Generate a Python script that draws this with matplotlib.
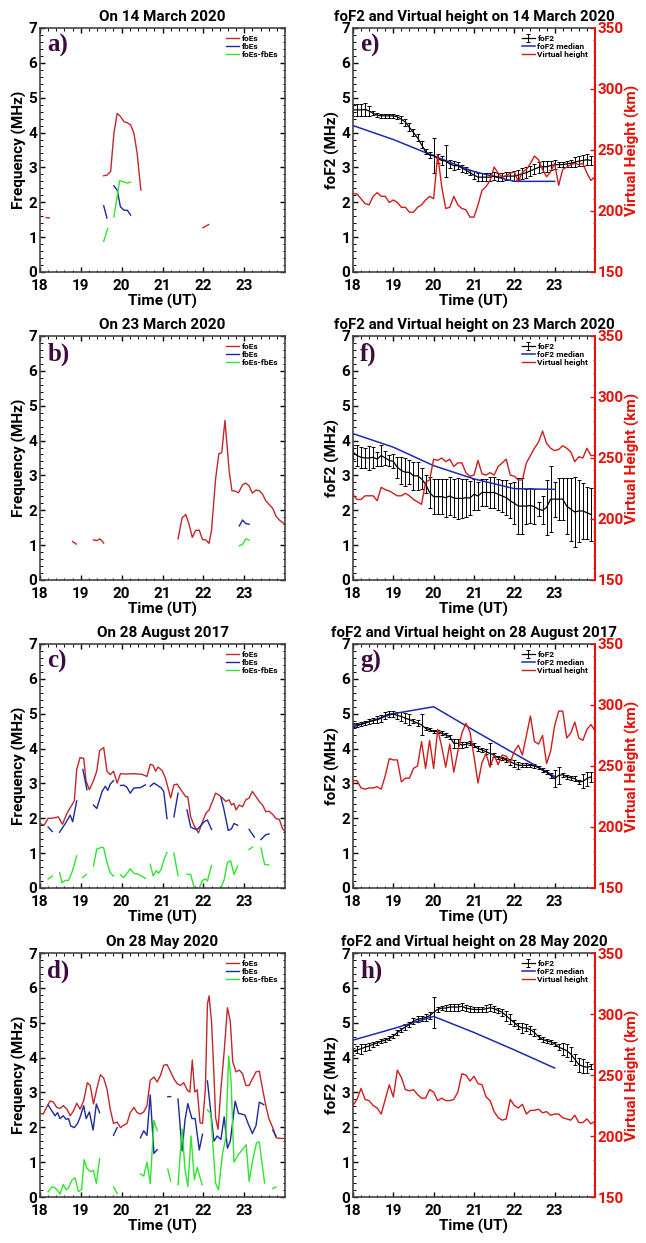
import numpy as np
import matplotlib
matplotlib.use('Agg')
import matplotlib.pyplot as plt
from matplotlib.ticker import MultipleLocator

nan = np.nan
plt.rcParams['font.family'] = ['Roboto', 'DejaVu Sans']
plt.rcParams['font.weight'] = 'bold'

# ---------------- left panels: foEs, fbEs, foEs-fbEs (nan = gap) ----------------
a_foes_t = [18.15, 18.23, nan, 19.56, 19.64, 19.73, 19.81, 19.89, 19.97, 20.06, 20.14, 20.22, 20.3, 20.38, 20.47, nan, 21.99, 22.13]
a_foes = [1.56, 1.55, nan, 2.76, 2.78, 2.88, 3.98, 4.55, 4.46, 4.31, 4.28, 4.22, 3.98, 3.4, 2.35, nan, 1.27, 1.36]
a_fbes_t = [19.56, 19.64, nan, 19.81, 19.89, 19.97, 20.06, 20.14, 20.22]
a_fbes = [1.9, 1.55, nan, 2.47, 2.35, 1.87, 1.77, 1.77, 1.63]
a_diff_t = [19.56, 19.66, nan, 19.81, 19.95, 20.06, 20.14, 20.22]
a_diff = [0.88, 1.25, nan, 1.58, 2.62, 2.58, 2.55, 2.58]

b_foes_t = [18.8, 18.89, nan, 19.31, 19.4, 19.47, 19.56, nan,
            21.38, 21.48, 21.57, 21.65, 21.73, 21.81, 21.9, 21.98, 22.06, 22.14, 22.2, 22.3, 22.38, 22.45,
            22.53, 22.63, 22.7, 22.78, 22.86, 22.96, 23.04, 23.12, 23.2, 23.29, 23.37, 23.45, 23.53, 23.61,
            23.7, 23.78, 23.86, 23.97]
b_foes = [1.1, 1.03, nan, 1.15, 1.13, 1.18, 1.06, nan,
          1.18, 1.78, 1.88, 1.6, 1.22, 1.42, 1.43, 1.16, 1.15, 1.05, 1.42, 2.9, 3.62, 3.65,
          4.58, 3.15, 2.56, 2.55, 2.5, 2.73, 2.78, 2.7, 2.49, 2.58, 2.56, 2.46, 2.27, 2.17,
          2.05, 1.83, 1.72, 1.62]
b_fbes_t = [22.88, 22.96, 23.04, 23.12]
b_fbes = [1.55, 1.72, 1.62, 1.6]
b_diff_t = [22.88, 22.96, 23.04, 23.12]
b_diff = [0.98, 1.02, 1.18, 1.14]

c_foes_t = [18.0, 18.1, 18.2, 18.3, 18.45, 18.55, 18.66, 18.78, 18.84, 18.9, 18.98, 19.07, 19.13, 19.21,
            19.31, 19.39, 19.46, 19.56, 19.64, 19.72, 19.8, 19.89, 19.97, 20.1, 20.3, 20.5, 20.62, 20.7,
            20.77, 20.83, 20.89, 20.99, 21.07, 21.2, 21.28, 21.36, 21.48, 21.57, 21.62, 21.69, 21.77,
            21.88, 21.98, 22.06, 22.14, 22.3, 22.38, 22.47, 22.55, 22.63, 22.69, 22.75, 22.8, 22.88,
            22.96, 23.04, 23.12, 23.2, 23.29, 23.37, 23.45, 23.53, 23.61, 23.7, 23.78, 23.86, 23.94, 24.0]
c_foes = [1.85, 1.8, 2.0, 2.0, 2.04, 1.83, 2.14, 2.38, 2.5, 3.4, 3.74, 3.72, 3.06, 2.82,
          3.08, 3.35, 3.94, 4.03, 3.35, 3.25, 3.35, 3.01, 3.28, 3.27, 3.28, 3.26, 3.2, 3.55,
          3.52, 3.35, 3.47, 3.37, 3.16, 2.58, 2.96, 2.98, 2.77, 2.62, 2.62, 2.04, 1.8,
          1.58, 1.9, 2.14, 2.24, 2.72, 2.67, 2.58, 2.48, 2.53, 2.38, 2.43, 2.24, 2.38,
          2.33, 2.53, 2.58, 2.77, 2.62, 2.48, 2.38, 2.19, 2.2, 2.11, 1.99, 1.97, 1.7, 1.62]
c_fbes_t = [18.2, 18.3, nan, 18.48, 18.62, 18.74, 18.8, 18.9, nan, 19.05, 19.15, nan,
            19.31, 19.39, 19.52, 19.6, 19.66, 19.72, 19.8, nan,
            19.97, 20.05, 20.13, 20.21, 20.3, 20.46, 20.58, nan,
            20.7, 20.79, 20.87, 20.97, 21.03, 21.11, nan, 21.28, 21.38, nan,
            21.6, 21.69, 21.77, 21.85, 21.93, 22.02, 22.1, 22.2, nan,
            22.43, 22.5, 22.61, 22.69, 22.75, 22.84, nan, 23.12, 23.25, nan, 23.41, 23.53, 23.61]
c_fbes = [1.75, 1.62, nan, 1.6, 1.85, 2.09, 1.9, 2.5, nan, 3.4, 2.82, nan,
          2.38, 2.28, 2.77, 2.92, 2.8, 2.98, 3.08, nan,
          2.94, 2.95, 2.89, 2.72, 2.87, 2.88, 2.96, nan,
          2.92, 3.01, 2.95, 2.87, 2.77, 1.99, nan, 2.04, 2.72, nan,
          2.24, 1.75, 1.7, 1.68, 1.78, 1.9, 1.95, 1.68, nan,
          2.6, 2.28, 1.65, 1.7, 1.85, 1.8, nan, 1.68, 1.46, nan, 1.39, 1.53, 1.55]
c_diff_t = [18.2, 18.3, nan, 18.48, 18.54, 18.62, 18.7, 18.78, 18.9, nan, 19.05, 19.13, nan,
            19.31, 19.39, 19.52, 19.56, 19.64, 19.72, 19.8, nan,
            19.97, 20.05, 20.13, 20.21, 20.3, 20.4, 20.5, 20.58, nan,
            20.7, 20.77, 20.85, 20.9, 20.97, 21.03, 21.11, nan, 21.28, 21.38, nan,
            21.6, 21.69, 21.78, 21.9, 21.98, 22.05, 22.1, 22.2, nan,
            22.43, 22.51, 22.59, 22.67, 22.75, 22.84, nan, 23.12, 23.2, nan, 23.41, 23.5, 23.6]
c_diff = [0.26, 0.34, nan, 0.44, 0.15, 0.22, 0.22, 0.44, 0.92, nan, 0.3, 0.39, nan,
          0.63, 1.12, 1.17, 1.15, 0.73, 0.44, 0.34, nan,
          0.38, 0.3, 0.42, 0.55, 0.42, 0.4, 0.33, 0.28, nan,
          0.68, 0.35, 0.5, 0.42, 0.55, 0.8, 1.02, nan, 1.0, 0.35, nan,
          0.4, 0.38, 0.0, 0.0, 0.22, 0.26, 0.2, 0.65, nan,
          0.0, 0.24, 0.73, 0.78, 0.39, 0.63, nan, 1.1, 1.18, nan, 1.15, 0.68, 0.66]

d_foes_t = [18.0, 18.08, 18.16, 18.25, 18.33, 18.41, 18.49, 18.57, 18.66, 18.74, 18.82, 18.9, 18.98,
            19.07, 19.16, 19.23, 19.31, 19.39, 19.48, 19.56, 19.64, 19.72, 19.8, 19.89, 19.97, 20.05,
            20.13, 20.21, 20.3, 20.38, 20.46, 20.54, 20.62, 20.7, 20.79, 20.87, 20.95, 21.03, 21.11,
            21.2, 21.28, 21.36, 21.44, 21.52, 21.61, 21.67, 21.73, 21.79, 21.85, 21.92, 21.98, 22.05,
            22.1, 22.14, 22.2, 22.26, 22.3, 22.36, 22.43, 22.51, 22.59, 22.66, 22.72, 22.8, 22.88,
            22.96, 23.04, 23.12, 23.2, 23.29, 23.37, 23.45, 23.53, 23.61, 23.7, 23.78, 23.9, 23.98]
d_foes = [2.4, 2.38, 2.57, 2.76, 2.72, 2.57, 2.54, 2.62, 2.52, 2.33, 2.47, 2.69, 2.52,
          2.76, 3.28, 3.2, 2.67, 3.1, 3.51, 3.41, 3.1, 2.52, 2.11, 2.15, 1.99, 2.06,
          2.11, 2.42, 2.57, 2.42, 2.38, 2.44, 2.62, 3.35, 3.44, 3.3, 3.49, 3.78, 3.8,
          3.59, 3.39, 3.25, 3.2, 3.28, 3.06, 3.01, 3.93, 3.01, 3.08, 2.13, 2.11, 3.1,
          5.53, 5.77, 5.04, 3.49, 2.28, 1.94, 3.1, 4.17, 5.43, 5.04, 3.88, 3.59, 3.64,
          3.54, 3.2, 3.2, 3.39, 3.59, 3.61, 3.1, 2.62, 2.23, 1.99, 1.7, 1.68, 1.68]
d_fbes_t = [18.2, 18.29, 18.37, 18.43, 18.49, 18.57, 18.64, 18.7, 18.75, 18.84, 18.92, 18.98, 19.07,
            19.13, 19.21, 19.3, 19.38, 19.46, nan, 19.8, 19.89, nan,
            20.46, 20.54, 20.62, 20.7, 20.79, 20.87, nan, 21.13, 21.2, nan,
            21.38, 21.48, 21.55, 21.62, 21.72, 21.8, 21.9, 21.98, nan,
            22.1, 22.26, 22.34, 22.43, 22.51, 22.59, 22.66, 22.78, 22.86, 22.94, 23.02, 23.1, 23.2,
            23.29, 23.37, 23.48, nan, 23.7, 23.78]
d_fbes = [2.64, 2.47, 2.33, 2.42, 2.25, 2.33, 2.23, 2.25, 2.04, 1.99, 2.11, 2.28, 2.62,
          2.25, 2.44, 1.92, 2.67, 2.42, nan, 1.77, 1.99, nan,
          1.7, 1.9, 1.77, 2.93, 1.25, 1.36, nan, 2.88, 2.88, nan,
          2.81, 1.32, 2.2, 2.68, 2.25, 2.25, 1.35, 1.8, nan,
          3.33, 1.6, 1.75, 1.65, 2.3, 1.4, 1.6, 2.75, 2.4, 2.38, 2.35, 2.1, 1.82,
          2.05, 2.72, 2.65, nan, 1.92, 1.75]
d_diff_t = [18.2, 18.29, 18.37, 18.43, 18.49, 18.57, 18.64, 18.7, 18.78, 18.86, 18.94, 19.02, 19.08,
            19.15, 19.23, 19.31, 19.38, 19.46, nan, 19.8, 19.89, nan,
            20.46, 20.54, 20.62, 20.7, 20.79, 20.87, nan, 21.13, 21.2, nan,
            21.38, 21.48, 21.55, 21.62, 21.7, 21.78, 21.85, 21.97, nan,
            22.1, 22.18, 22.3, 22.37, 22.47, 22.55, 22.62, 22.68, 22.75, 22.85, 22.95, 23.05, 23.12,
            23.2, 23.3, 23.37, 23.5, nan, 23.7, 23.78]
d_diff = [0.15, 0.29, 0.26, 0.19, 0.08, 0.36, 0.21, 0.26, 0.48, 0.55, 0.16, 0.21, 1.07,
          0.82, 0.73, 0.76, 0.39, 1.1, nan, 0.29, 0.1, nan,
          0.66, 0.6, 1.0, 0.38, 2.2, 1.9, nan, 0.8, 0.45, nan,
          0.35, 1.95, 0.8, 0.3, 1.75, 0.5, 0.85, 0.35, nan,
          2.5, 2.4, 0.4, 0.2, 1.25, 1.7, 4.05, 3.3, 1.0, 1.2, 1.35, 1.5, 0.45,
          1.0, 1.55, 1.58, 0.4, nan, 0.24, 0.29]

# ---------------- right panels: foF2 (6-min), median (hourly), virtual height ----------------
t_fof2 = 18 + 0.1 * np.arange(60)
t_vh = 18 + 0.1 * np.arange(61)
t_med = [18, 19, 20, 21, 22, 23]

e_fof2 = [4.65, 4.65, 4.65, 4.66, 4.62, 4.55, 4.5, 4.48, 4.48, 4.48, 4.48, 4.45, 4.38, 4.3, 4.15, 4.0, 3.85, 3.65, 3.45, 3.35,
          3.35, 3.25, 3.2, 3.18, 3.1, 3.05, 3.05, 2.98, 2.92, 2.85, 2.78, 2.72, 2.72, 2.72, 2.72, 2.75, 2.72, 2.72, 2.75, 2.75,
          2.75, 2.78, 2.82, 2.85, 2.9, 2.95, 3.0, 3.02, 3.02, 3.05, 3.08, 3.08, 3.08, 3.1, 3.12, 3.15, 3.18, 3.2, 3.22, 3.2]
e_err = [0.18, 0.18, 0.18, 0.18, 0.15, 0.06, 0.06, 0.06, 0.06, 0.06, 0.06, 0.06, 0.1, 0.1, 0.12, 0.1, 0.1, 0.1, 0.08, 0.08,
         0.5, 0.12, 0.12, 0.45, 0.12, 0.12, 0.1, 0.1, 0.08, 0.08, 0.12, 0.12, 0.12, 0.12, 0.12, 0.12, 0.12, 0.12, 0.12, 0.12,
         0.15, 0.15, 0.15, 0.15, 0.15, 0.15, 0.15, 0.15, 0.15, 0.12, 0.12, 0.08, 0.08, 0.08, 0.1, 0.15, 0.15, 0.15, 0.15, 0.12]
e_med = [4.2, 3.8, 3.33, 2.88, 2.6, 2.6]
e_vh = [214, 214, 210, 206, 205, 212, 215, 212, 212, 207, 209, 207, 203, 203, 199, 199, 203, 205, 209, 212,
        210, 246, 220, 202, 203, 212, 205, 202, 201, 195, 195, 205, 217, 220, 225, 236, 231, 228, 229, 231,
        232, 224, 232, 234, 239, 245, 242, 234, 228, 232, 239, 221, 234, 236, 238, 239, 238, 239, 231, 225, 228]

f_fof2 = [3.67, 3.57, 3.52, 3.5, 3.5, 3.52, 3.47, 3.57, 3.5, 3.43, 3.4, 3.23, 3.14, 3.09, 3.09, 2.99, 2.99, 2.9, 2.75, 2.51,
          2.39, 2.39, 2.39, 2.36, 2.41, 2.35, 2.34, 2.34, 2.36, 2.35, 2.46, 2.41, 2.51, 2.51, 2.51, 2.51, 2.46, 2.41, 2.36, 2.27,
          2.2, 2.12, 2.12, 2.12, 2.14, 2.1, 2.03, 2.0, 2.08, 2.32, 2.32, 2.32, 2.32, 2.12, 2.03, 1.95, 1.98, 1.98, 1.93, 1.88]
f_err = [0.2, 0.3, 0.3, 0.3, 0.35, 0.3, 0.2, 0.3, 0.2, 0.15, 0.2, 0.3, 0.4, 0.4, 0.35, 0.4, 0.4, 0.3, 0.25, 0.45,
         0.5, 0.5, 0.5, 0.55, 0.55, 0.55, 0.6, 0.55, 0.55, 0.5, 0.45, 0.4, 0.4, 0.4, 0.45, 0.45, 0.45, 0.45, 0.5, 0.5,
         0.6, 0.8, 0.8, 0.5, 0.5, 0.5, 0.2, 0.4, 0.8, 0.95, 0.5, 0.6, 0.6, 0.8, 0.9, 1.0, 0.9, 0.8, 0.75, 0.75]
f_med = [4.2, 3.81, 3.28, 2.9, 2.62, 2.6]
f_vh = [220, 216, 216, 219, 219, 219, 215, 226, 224, 223, 221, 219, 219, 221, 219, 216, 214, 212, 230, 232,
        249, 248, 250, 247, 249, 243, 246, 246, 238, 235, 236, 248, 237, 236, 238, 236, 243, 246, 249, 236,
        235, 232, 232, 246, 252, 258, 263, 272, 262, 258, 256, 257, 260, 258, 255, 247, 251, 250, 258, 252, 252]

g_fof2 = [4.68, 4.68, 4.7, 4.73, 4.78, 4.8, 4.83, 4.87, 4.95, 4.99, 4.99, 4.95, 4.92, 4.87, 4.83, 4.78, 4.73, 4.68, 4.58, 4.54,
          4.49, 4.49, 4.44, 4.39, 4.34, 4.15, 4.15, 4.1, 4.12, 4.15, 4.1, 4.0, 3.96, 3.91, 3.86, 3.81, 3.74, 3.72, 3.67, 3.62,
          3.57, 3.52, 3.52, 3.52, 3.52, 3.5, 3.45, 3.38, 3.33, 3.23, 3.14, 3.23, 3.25, 3.19, 3.16, 3.14, 3.04, 3.06, 3.14, 3.19]
g_err = [0.05, 0.05, 0.06, 0.06, 0.08, 0.08, 0.1, 0.1, 0.1, 0.08, 0.08, 0.1, 0.12, 0.15, 0.15, 0.06, 0.08, 0.3, 0.05, 0.05,
         0.05, 0.05, 0.06, 0.05, 0.06, 0.12, 0.12, 0.08, 0.08, 0.06, 0.06, 0.06, 0.06, 0.08, 0.3, 0.05, 0.05, 0.05, 0.05, 0.08,
         0.1, 0.1, 0.06, 0.06, 0.05, 0.05, 0.05, 0.06, 0.06, 0.08, 0.25, 0.25, 0.06, 0.05, 0.05, 0.06, 0.06, 0.2, 0.2, 0.15]
g_med = [4.62, 5.0, 5.2, 4.52, 3.86, 3.2]
g_vh = [238, 238, 232, 231, 232, 232, 233, 231, 242, 256, 255, 255, 237, 240, 240, 248, 250, 270, 248, 271,
        248, 280, 266, 249, 268, 245, 262, 277, 285, 278, 258, 236, 253, 260, 249, 259, 251, 259, 258, 253,
        262, 267, 259, 275, 291, 270, 268, 275, 252, 262, 283, 295, 295, 273, 277, 286, 273, 271, 280, 284, 279]

h_fof2 = [4.18, 4.22, 4.25, 4.3, 4.33, 4.38, 4.42, 4.47, 4.5, 4.55, 4.62, 4.72, 4.8, 4.88, 4.95, 5.05, 5.1, 5.12, 5.15, 5.2,
          5.3, 5.38, 5.42, 5.42, 5.45, 5.45, 5.45, 5.47, 5.42, 5.4, 5.38, 5.38, 5.38, 5.4, 5.43, 5.4, 5.35, 5.3, 5.2, 5.1,
          5.0, 4.9, 4.85, 4.85, 4.8, 4.72, 4.6, 4.52, 4.48, 4.45, 4.4, 4.3, 4.25, 4.2, 4.1, 3.95, 3.8, 3.75, 3.72, 3.75]
h_err = [0.1, 0.1, 0.15, 0.1, 0.1, 0.08, 0.06, 0.06, 0.06, 0.06, 0.06, 0.06, 0.06, 0.08, 0.08, 0.08, 0.08, 0.08, 0.1, 0.1,
         0.45, 0.06, 0.06, 0.08, 0.1, 0.1, 0.1, 0.1, 0.08, 0.08, 0.08, 0.08, 0.08, 0.1, 0.1, 0.08, 0.08, 0.1, 0.15, 0.15,
         0.08, 0.08, 0.15, 0.1, 0.12, 0.1, 0.06, 0.06, 0.06, 0.06, 0.06, 0.08, 0.18, 0.18, 0.2, 0.15, 0.2, 0.2, 0.15, 0.08]
h_med = [4.5, 4.83, 5.18, 4.72, 4.22, 3.7]
h_vh = [225, 230, 239, 230, 229, 225, 223, 218, 230, 242, 232, 254, 248, 238, 237, 238, 234, 231, 231, 238,
        236, 229, 231, 229, 229, 230, 236, 251, 250, 245, 249, 243, 242, 232, 229, 220, 215, 213, 214, 230,
        225, 223, 226, 218, 221, 221, 222, 219, 220, 217, 218, 218, 215, 214, 213, 217, 211, 211, 214, 210, 212]

dates = ['14 March 2020', '23 March 2020', '28 August 2017', '28 May 2020']

# colours
C_FOES = '#c1272d'
C_FBES = '#1c2a9c'
C_DIFF = '#2ee62e'
C_MED = '#1c2bb0'
C_VH = '#d01c1c'
C_RAX = '#e3120b'
C_LET = '#3d0b3f'
C_SPINE = '#444444'

fig = plt.figure(figsize=(6.46, 12.43), dpi=100)
bottoms = [0.7812, 0.5334, 0.2856, 0.0370]
H = 0.1963
TICK = 11


def base_style(ax, right=True):
    ax.set_xlim(18, 24)
    ax.set_ylim(0, 7)
    ax.set_xticks([18, 19, 20, 21, 22, 23])
    ax.set_yticks(range(8))
    ax.xaxis.set_minor_locator(MultipleLocator(0.2))
    ax.yaxis.set_minor_locator(MultipleLocator(0.2))
    ax.tick_params(which='both', direction='in', top=True, right=right, labelsize=TICK)
    ax.tick_params(axis='x', which='both', pad=5)
    ax.tick_params(axis='y', which='both', pad=2)
    ax.tick_params(which='major', length=3.5, width=1)
    ax.tick_params(which='minor', length=1.8, width=0.7)
    for s in ax.spines.values():
        s.set_linewidth(1.2)
        s.set_color(C_SPINE)
    ax.set_xlabel('Time (UT)', fontsize=11, fontweight='bold', labelpad=1)


def letter(ax, s):
    ax.text(0.03, 0.975, s, transform=ax.transAxes, fontsize=18, fontweight='bold',
            family='Liberation Serif', color=C_LET, va='top', ha='left')


left_data = [
    (a_foes_t, a_foes, a_fbes_t, a_fbes, a_diff_t, a_diff),
    (b_foes_t, b_foes, b_fbes_t, b_fbes, b_diff_t, b_diff),
    (c_foes_t, c_foes, c_fbes_t, c_fbes, c_diff_t, c_diff),
    (d_foes_t, d_foes, d_fbes_t, d_fbes, d_diff_t, d_diff),
]
right_data = [
    (e_fof2, e_err, e_med, e_vh),
    (f_fof2, f_err, f_med, f_vh),
    (g_fof2, g_err, g_med, g_vh),
    (h_fof2, h_err, h_med, h_vh),
]

for i in range(4):
    # left column
    ax = fig.add_axes([0.0619, bottoms[i], 0.3793, H])
    ft, fv, bt, bv, dt, dv = left_data[i]
    ax.plot(ft, fv, color=C_FOES, lw=1.0, label='foEs')
    ax.plot(bt, bv, color=C_FBES, lw=1.0, label='fbEs')
    ax.plot(dt, dv, color=C_DIFF, lw=1.0, label='foEs-fbEs')
    base_style(ax)
    ax.set_ylabel('Frequency (MHz)', fontsize=11, fontweight='bold', labelpad=1)
    ax.set_title('On ' + dates[i], fontsize=11, fontweight='bold', pad=5)
    ax.legend(loc='upper right', fontsize=6, frameon=False, handlelength=1.6,
              labelspacing=0.15, handletextpad=0.3, borderaxespad=0.4)
    letter(ax, 'abcd'[i] + ')')

    # right column
    fof2, err, med, vh = right_data[i]
    ax = fig.add_axes([0.5464, bottoms[i], 0.3746, H])
    eb = ax.errorbar(t_fof2, fof2, yerr=err, color='k', lw=0.9, elinewidth=0.7,
                     capsize=1.6, capthick=0.7, label='foF2')
    ml, = ax.plot(t_med, med, color=C_MED, lw=1.1, label='foF2 median')
    base_style(ax, right=False)
    ax.spines['right'].set_visible(False)
    ax.set_ylabel('foF2 (MHz)', fontsize=11, fontweight='bold', labelpad=1)
    ax.set_title('foF2 and Virtual height on ' + dates[i], fontsize=10.8, fontweight='bold', pad=5)
    letter(ax, 'efgh'[i] + ')')

    ax2 = ax.twinx()
    vl, = ax2.plot(t_vh, vh, color=C_VH, lw=1.0, label='Virtual height')
    ax2.set_ylim(150, 350)
    ax2.set_yticks([150, 200, 250, 300, 350])
    ax2.yaxis.set_minor_locator(MultipleLocator(10))
    ax2.tick_params(axis='y', which='both', direction='in', colors=C_RAX, labelsize=TICK, pad=2)
    ax2.tick_params(axis='y', which='major', length=3.5, width=1)
    ax2.tick_params(axis='y', which='minor', length=1.8, width=0.7)
    for k, s in ax2.spines.items():
        s.set_visible(k == 'right')
    ax2.spines['right'].set_color(C_RAX)
    ax2.spines['right'].set_linewidth(1.5)
    ax2.set_ylabel('Virtual Height (km)', color=C_RAX, fontsize=11, fontweight='bold', labelpad=1)
    ax2.legend([eb, ml, vl], ['foF2', 'foF2 median', 'Virtual height'], loc='upper right',
               fontsize=6, frameon=False, handlelength=1.6, labelspacing=0.15,
               handletextpad=0.3, borderaxespad=0.4)

fig.savefig('out.png', dpi=100)
